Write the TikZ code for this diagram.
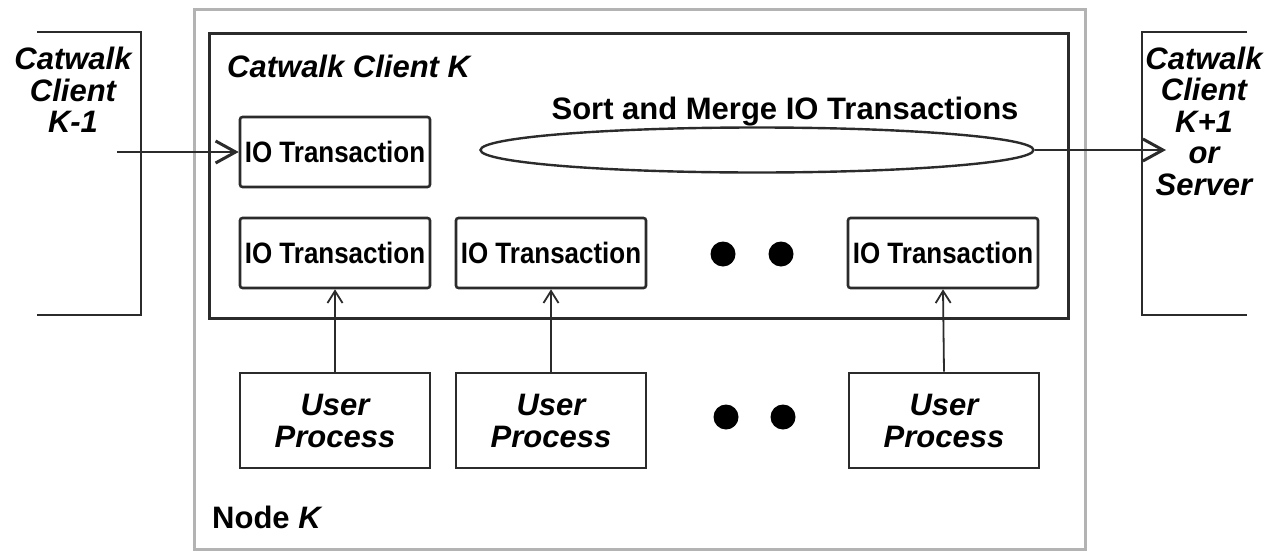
\documentclass[tikz,border=0pt]{standalone}
\usepackage{fontspec}
\setmainfont{Liberation Sans}
\newfontfamily\iofont[FakeStretch=0.88]{Liberation Sans}
\usetikzlibrary{arrows.meta,shapes.geometric}
\definecolor{ln}{HTML}{2B2B2B}
\definecolor{outercol}{HTML}{B3B3B3}
\begin{document}
\begin{tikzpicture}[x=1pt,y=-1pt,
  iobox/.style={draw=ln, line width=2.6pt, rounded corners=2.5pt, minimum width=190pt, minimum height=70pt, inner sep=0pt, font=\iofont\bfseries\fontsize{29.5}{30}\selectfont},
  upbox/.style={draw=ln, line width=2.6pt, minimum width=190pt, minimum height=95pt, inner sep=0pt, align=center, font=\bfseries\itshape\fontsize{31}{32}\selectfont},
  lbl/.style={align=center, inner sep=0pt, font=\bfseries\itshape\fontsize{31}{31.5}\selectfont},
  dotc/.style={circle, fill=black, minimum size=25pt, inner sep=0pt},
  flow/.style={draw=ln, line width=2.8pt, -{Straight Barb[length=20pt,width=22pt,line width=3pt]}},
  uparr/.style={draw=ln, line width=1.8pt, -{Straight Barb[length=12pt,width=15pt,line width=1.8pt]}},
  bracket/.style={draw=ln, line width=2.8pt}]
\useasboundingbox (0,0) rectangle (1270,552);
% outer node box
\node[draw=outercol, line width=3.2pt, minimum width=891pt, minimum height=540pt, inner sep=0pt, anchor=north west] (nodeK) at (193,8) {};
% client box
\node[draw=ln, line width=3pt, minimum width=859pt, minimum height=285pt, inner sep=0pt, anchor=north west] (clientK) at (208,32) {};
% brackets
\draw[bracket] (37,32) -- (141,32) -- (141,315) -- (37,315);
\draw[bracket] (1247,32) -- (1142,32) -- (1142,315) -- (1247,315);
% labels
\node[lbl] (prev) at (73,90) {Catwalk\\Client\\K-1};
\node[lbl] (next) at (1204,121) {Catwalk\\Client\\K+1\\or\\Server};
\node[anchor=base west, inner sep=0pt, font=\bfseries\itshape\fontsize{31}{32}\selectfont] (clientlbl) at (227,77) {Catwalk Client K};
\node[anchor=base west, inner sep=0pt, font=\bfseries\fontsize{31}{32}\selectfont] (nodelbl) at (212,528) {Node \textit{K}};
\node[anchor=base, inner sep=0pt, font=\bfseries\fontsize{31}{32}\selectfont] (smlbl) at (785,119) {Sort and Merge IO Transactions};
\node[ellipse, draw=ln, line width=2.4pt, minimum width=553pt, minimum height=45pt, inner sep=0pt] (sm) at (757,150) {};
% IO transactions
\node[iobox] (io0) at (335,152) {IO Transaction};
\node[iobox] (io1) at (335,253) {IO Transaction};
\node[iobox] (io2) at (551,253) {IO Transaction};
\node[iobox] (io3) at (943,253) {IO Transaction};
% user processes
\node[upbox] (up1) at (335,420.5) {User\\Process};
\node[upbox] (up2) at (551,420.5) {User\\Process};
\node[upbox] (up3) at (944,420.5) {User\\Process};
% dots
\node[dotc] (d1) at (723,254) {};
\node[dotc] (d2) at (781,254) {};
\node[dotc] (d3) at (726,417) {};
\node[dotc] (d4) at (783,417) {};
% connectors
\coordinate (inL) at (117,152);
\coordinate (outR) at (1166,150);
\draw[flow] (inL) -- (io0.west);
\draw[flow] (sm.east) -- (outR);
\draw[uparr] (up1.north) -- (io1.south);
\draw[uparr] (up2.north) -- (io2.south);
\draw[uparr] (up3.north) -- (io3.south);
\end{tikzpicture}
\end{document}
